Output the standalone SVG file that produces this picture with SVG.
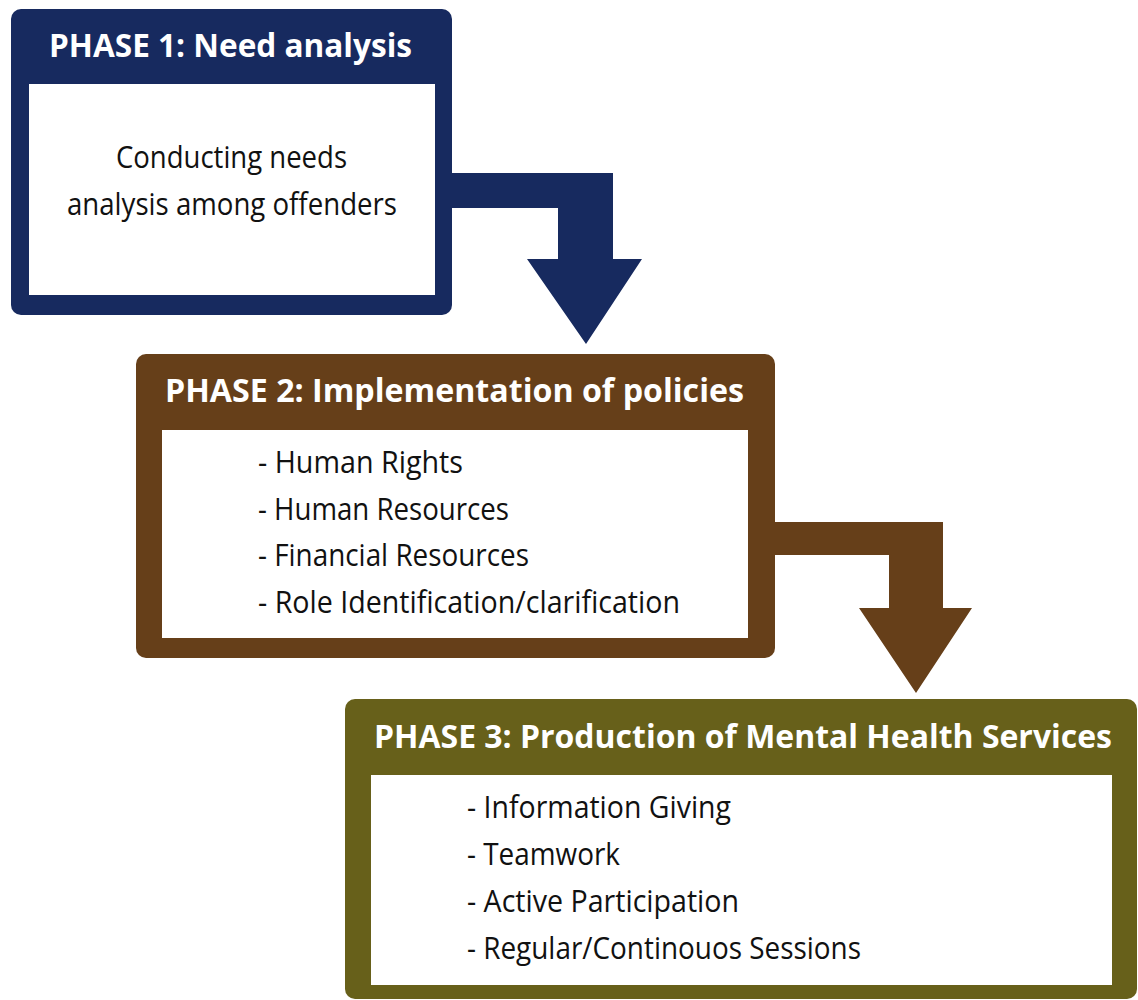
<svg xmlns="http://www.w3.org/2000/svg" width="1138" height="1000" viewBox="0 0 1138 1000">
  <style>
    .title { font-family: "Open Sans", "Liberation Sans", sans-serif; font-weight: 700; font-size: 33px; fill: #ffffff; }
    .body { font-family: "Open Sans", "Liberation Sans", sans-serif; font-weight: 400; font-size: 31px; fill: #111111; }
    .inner { fill: #ffffff; }
    .navy { fill: #172a5f; }
    .brown { fill: #663f19; }
    .olive { fill: #67601a; }
  </style>
  <rect width="1138" height="1000" fill="#ffffff"/>

  <!-- connectors -->
  <g id="connectors">
    <path class="navy" d="M445,173 H613 V259 H642 L586,344 L527,259 H558 V208 H445 Z"/>
    <path class="brown" d="M770,522 H943 V608 H972 L916,693 L859,608 H889 V555 H770 Z"/>
  </g>

  <!-- phase 1 -->
  <g id="phase1">
    <rect class="navy" x="11" y="9" width="441" height="306" rx="10"/>
    <rect class="inner" x="29" y="84" width="406" height="211"/>
    <text class="title" x="49" y="57" textLength="363" lengthAdjust="spacingAndGlyphs">PHASE 1: Need analysis</text>
    <text class="body" x="116" y="168" textLength="231" lengthAdjust="spacingAndGlyphs">Conducting needs</text>
    <text class="body" x="67" y="215" textLength="330" lengthAdjust="spacingAndGlyphs">analysis among offenders</text>
  </g>

  <!-- phase 2 -->
  <g id="phase2">
    <rect class="brown" x="136" y="354" width="639" height="304" rx="10"/>
    <rect class="inner" x="162" y="430" width="586" height="208"/>
    <text class="title" x="165" y="402" textLength="579" lengthAdjust="spacingAndGlyphs">PHASE 2: Implementation of policies</text>
    <text class="body" x="258" y="473" textLength="205" lengthAdjust="spacingAndGlyphs">- Human Rights</text>
    <text class="body" x="258" y="520" textLength="251" lengthAdjust="spacingAndGlyphs">- Human Resources</text>
    <text class="body" x="258" y="566" textLength="271" lengthAdjust="spacingAndGlyphs">- Financial Resources</text>
    <text class="body" x="258" y="613" textLength="422" lengthAdjust="spacingAndGlyphs">- Role Identification/clarification</text>
  </g>

  <!-- phase 3 -->
  <g id="phase3">
    <rect class="olive" x="345" y="699" width="792" height="300" rx="10"/>
    <rect class="inner" x="371" y="775" width="741" height="210"/>
    <text class="title" x="374" y="748" textLength="738" lengthAdjust="spacingAndGlyphs">PHASE 3: Production of Mental Health Services</text>
    <text class="body" x="467" y="818" textLength="264" lengthAdjust="spacingAndGlyphs">- Information Giving</text>
    <text class="body" x="467" y="865" textLength="153" lengthAdjust="spacingAndGlyphs">- Teamwork</text>
    <text class="body" x="467" y="912" textLength="272" lengthAdjust="spacingAndGlyphs">- Active Participation</text>
    <text class="body" x="467" y="959" textLength="394" lengthAdjust="spacingAndGlyphs">- Regular/Continouos Sessions</text>
  </g>
</svg>
